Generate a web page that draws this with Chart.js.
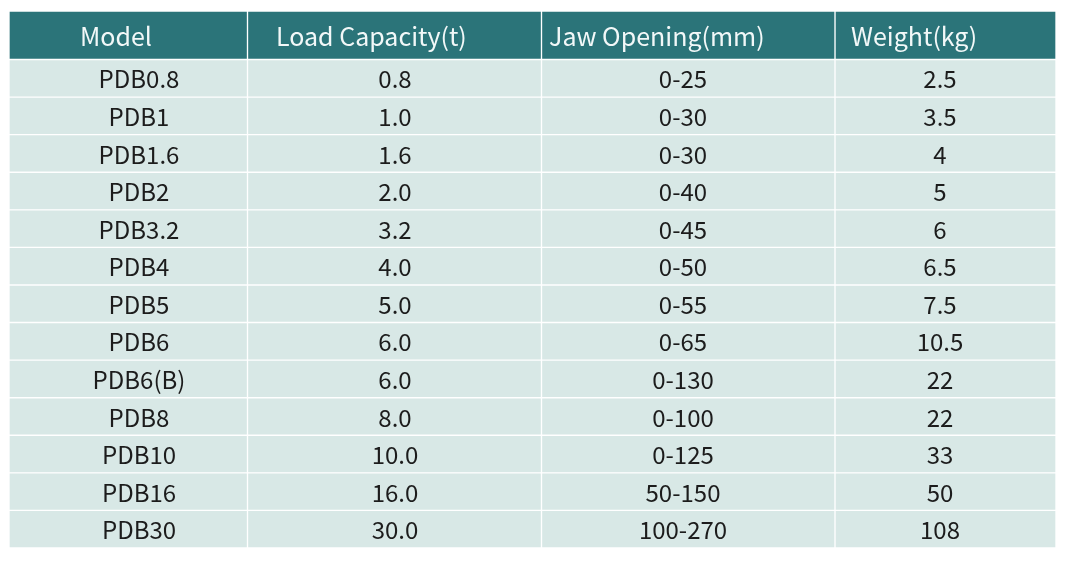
<!DOCTYPE html>
<html>
<head>
<meta charset="utf-8">
<script src="https://cdn.jsdelivr.net/npm/chart.js@4/dist/chart.umd.min.js"></script>
<style>
html,body{margin:0;padding:0;background:#ffffff;}
#wrap{width:1075px;height:561px;}
</style>
</head>
<body>
<div id="wrap"><canvas id="c" width="1075" height="561"></canvas></div>
<script>
// ---- data ----
const headers = ['Model', 'Load Capacity(t)', 'Jaw Opening(mm)', 'Weight(kg)'];
const models = ['PDB0.8','PDB1','PDB1.6','PDB2','PDB3.2','PDB4','PDB5','PDB6','PDB6(B)','PDB8','PDB10','PDB16','PDB30'];
const loadCapacity = ['0.8','1.0','1.6','2.0','3.2','4.0','5.0','6.0','6.0','8.0','10.0','16.0','30.0'];
const jawOpening = ['0-25','0-30','0-30','0-40','0-45','0-50','0-55','0-65','0-130','0-100','0-125','50-150','100-270'];
const weight = ['2.5','3.5','4','5','6','6.5','7.5','10.5','22','22','33','50','108'];

// ---- layout (table units = pixels inside chart area) ----
const columns = [models, loadCapacity, jawOpening, weight];
const colEdges = [0, 238.5, 532.5, 826, 1047];
const headerTextX = [71, 267, 540, 842];
const bodyTextX = [130, 386, 674, 931];
const headerH = 48.5;
const rowH = 37.55;
const tableW = 1047;
const tableH = headerH + rowH * models.length;

const headerColor = '#2b7479';
const cellColor = '#d8e8e6';

const datasets = [];
columns.forEach((col, c) => {
  datasets.push({
    label: 'header-' + c,
    kind: 'header',
    col: c,
    data: [{ x: [colEdges[c], colEdges[c + 1]], y: headerH / 2, text: headers[c] }],
    backgroundColor: headerColor,
    borderColor: '#ffffff',
    borderWidth: 1,
    borderSkipped: false,
    barThickness: headerH,
    grouped: false
  });
  datasets.push({
    label: 'body-' + c,
    kind: 'body',
    col: c,
    data: col.map((v, r) => ({ x: [colEdges[c], colEdges[c + 1]], y: headerH + rowH * (r + 0.5), text: v })),
    backgroundColor: cellColor,
    borderColor: '#ffffff',
    borderWidth: 1,
    borderSkipped: false,
    barThickness: rowH,
    grouped: false
  });
});

const textPlugin = {
  id: 'cellText',
  afterDatasetsDraw(chart) {
    const ctx = chart.ctx;
    const xs = chart.scales.x;
    ctx.save();
    chart.data.datasets.forEach((ds, i) => {
      const meta = chart.getDatasetMeta(i);
      meta.data.forEach((el, j) => {
        const p = el.getProps(['y'], true);
        const item = ds.data[j];
        if (ds.kind === 'header') {
          ctx.font = '400 25px "Noto Sans CJK SC", "Noto Sans", sans-serif';
          ctx.fillStyle = '#f2f8f8';
          ctx.textAlign = 'left';
          ctx.textBaseline = 'middle';
          ctx.fillText(item.text, xs.getPixelForValue(headerTextX[ds.col]), p.y + 1);
        } else {
          ctx.font = '400 24px "Noto Sans CJK SC", "Noto Sans", sans-serif';
          ctx.fillStyle = '#1c1c1c';
          ctx.textAlign = 'center';
          ctx.textBaseline = 'middle';
          ctx.fillText(item.text, xs.getPixelForValue(bodyTextX[ds.col]), p.y + 1);
        }
      });
    });
    ctx.restore();
  }
};

new Chart(document.getElementById('c'), {
  type: 'bar',
  data: { datasets },
  options: {
    indexAxis: 'y',
    responsive: false,
    animation: false,
    devicePixelRatio: 1,
    layout: { padding: { left: 9, right: 19, top: 11, bottom: 13 } },
    plugins: { legend: { display: false }, tooltip: { enabled: false } },
    scales: {
      x: { type: 'linear', min: 0, max: tableW, offset: false, display: false },
      y: { type: 'linear', min: 0, max: tableH, reverse: true, offset: false, display: false }
    }
  },
  plugins: [textPlugin]
});
</script>
</body>
</html>
